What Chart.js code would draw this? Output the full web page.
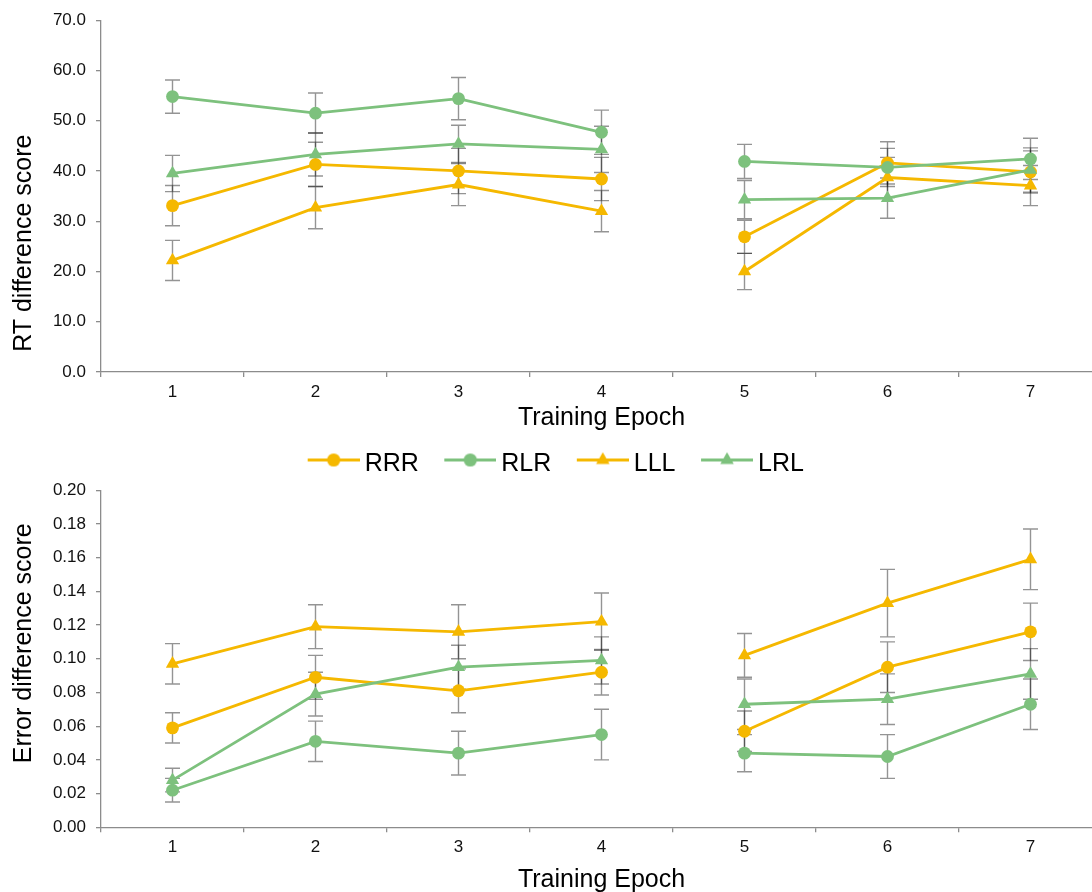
<!DOCTYPE html>
<html>
<head>
<meta charset="utf-8">
<title>RT and error difference scores by training epoch</title>
<script src="https://cdn.jsdelivr.net/npm/chart.js@4.4.1/dist/chart.umd.min.js"></script>
<style>
  html, body { margin: 0; padding: 0; background: #fff; width: 1092px; height: 892px; overflow: hidden; }
  #wrap { position: relative; width: 1092px; height: 892px; overflow: hidden; }
  canvas { position: absolute; left: 0; }
  #rtChart { top: 0; }
  #errChart { top: 470px; }
</style>
</head>
<body>
<div id="wrap">
  <canvas id="rtChart" width="1102" height="487"></canvas>
  <canvas id="errChart" width="1102" height="422"></canvas>
</div>
<script>
// ---- data ----
const epochs = ['1', '2', '3', '4', '5', '6', '7'];
const breakAfterEpoch = '4';          // lines are not joined between epoch 4 and 5
const groups = ['RRR', 'RLR', 'LLL', 'LRL'];

// RT difference score (means and standard errors)
const rtRRR = [33.1, 41.3, 40.0, 38.4, 26.9, 41.6, 39.8];
const rtRLR = [54.8, 51.5, 54.4, 47.7, 41.9, 40.7, 42.4];
const rtLLL = [22.2, 32.7, 37.3, 32.0, 20.0, 38.7, 37.1];
const rtLRL = [39.5, 43.3, 45.4, 44.3, 34.3, 34.6, 40.2];
const rtRRRErr = [4.0, 4.4, 4.5, 4.3, 3.3, 4.2, 4.2];
const rtRLRErr = [3.3, 4.0, 4.2, 4.4, 3.4, 3.8, 4.1];
const rtLLLErr = [4.0, 4.2, 4.2, 4.1, 3.6, 4.0, 4.0];
const rtLRLErr = [3.6, 4.3, 3.7, 4.6, 3.8, 4.0, 4.4];

// Error difference score (means and standard errors)
const erRRR = [0.059, 0.089, 0.081, 0.092, 0.057, 0.095, 0.116];
const erRLR = [0.022, 0.051, 0.044, 0.055, 0.044, 0.042, 0.073];
const erLLL = [0.097, 0.119, 0.116, 0.122, 0.102, 0.133, 0.159];
const erLRL = [0.028, 0.079, 0.095, 0.099, 0.073, 0.076, 0.091];
const erRRRErr = [0.009, 0.013, 0.013, 0.0135, 0.012, 0.015, 0.017];
const erRLRErr = [0.007, 0.012, 0.013, 0.015, 0.011, 0.013, 0.015];
const erLLLErr = [0.012, 0.013, 0.016, 0.017, 0.013, 0.020, 0.018];
const erLRLErr = [0.007, 0.013, 0.013, 0.014, 0.015, 0.015, 0.015];

// axis tick values
const rtTicks = [0, 10, 20, 30, 40, 50, 60, 70];
const erTicks = [0, 0.02, 0.04, 0.06, 0.08, 0.10, 0.12, 0.14, 0.16, 0.18, 0.20];

// ---- styling ----
const ORANGE = '#F5B800';
const GREEN = '#7DC17D';
const AXIS = '#8c8c8c';
const FONT = '"Liberation Sans", Arial, Helvetica, sans-serif';
Chart.defaults.font.family = FONT;
Chart.defaults.color = '#111';

const seriesStyle = {
  RRR: { color: ORANGE, marker: 'circle',   radius: 6.4, order: 2 },
  RLR: { color: GREEN,  marker: 'circle',   radius: 6.4, order: 0 },
  LLL: { color: ORANGE, marker: 'triangle', radius: 7.7, order: 3 },
  LRL: { color: GREEN,  marker: 'triangle', radius: 7.7, order: 1 }
};

function buildDatasets(values, errors) {
  return groups.map((g, i) => {
    const s = seriesStyle[g];
    return {
      label: g,
      data: values[i],
      errors: errors[i],
      order: s.order,
      borderColor: s.color,
      backgroundColor: s.color,
      borderWidth: 2.8,
      pointStyle: s.marker,
      pointRadius: s.radius,
      pointHoverRadius: s.radius,
      pointBorderWidth: 0,
      pointBackgroundColor: s.color,
      tension: 0,
      segment: {
        borderColor: ctx => epochs[ctx.p0DataIndex] === breakAfterEpoch ? 'rgba(0,0,0,0)' : undefined
      }
    };
  });
}

// legend icon: short line with the series marker in the middle
function legendIcon(ds) {
  const c = document.createElement('canvas');
  c.width = 69; c.height = 34;
  const g = c.getContext('2d');
  const ly = 12.5;
  g.strokeStyle = ds.borderColor;
  g.lineWidth = 2.8;
  g.beginPath(); g.moveTo(17, ly); g.lineTo(69, ly); g.stroke();
  g.fillStyle = ds.borderColor;
  g.beginPath();
  if (ds.pointStyle === 'circle') {
    g.arc(43, ly, 6.6, 0, Math.PI * 2);
  } else {
    const r = 7.8;
    g.moveTo(43, ly - r);
    g.lineTo(43 + r * Math.sin(2 * Math.PI / 3), ly + r / 2);
    g.lineTo(43 - r * Math.sin(2 * Math.PI / 3), ly + r / 2);
    g.closePath();
  }
  g.fill();
  return c;
}

// vertical error bars with caps, drawn beneath the lines
const errorBars = {
  id: 'errorBars',
  beforeDatasetsDraw(chart, args, opts) {
    const { ctx } = chart;
    const xs = chart.scales.x, ys = chart.scales.y;
    ctx.save();
    ctx.strokeStyle = opts.color;
    ctx.lineWidth = opts.width;
    chart.data.datasets.forEach((ds, di) => {
      if (!chart.isDatasetVisible(di)) return;
      ds.data.forEach((v, j) => {
        const e = ds.errors[j];
        const px = xs.getPixelForValue(j);
        const hi = ys.getPixelForValue(v + e);
        const lo = ys.getPixelForValue(v - e);
        ctx.beginPath();
        ctx.moveTo(px, hi); ctx.lineTo(px, lo);
        ctx.moveTo(px - opts.cap, hi); ctx.lineTo(px + opts.cap, hi);
        ctx.moveTo(px - opts.cap, lo); ctx.lineTo(px + opts.cap, lo);
        ctx.stroke();
      });
    });
    ctx.restore();
  }
};

// rotated y-axis title
const sideTitle = {
  id: 'sideTitle',
  afterDraw(chart, args, opts) {
    const { ctx, chartArea } = chart;
    ctx.save();
    ctx.font = '25px ' + FONT;
    ctx.fillStyle = '#000';
    ctx.textAlign = 'center';
    ctx.textBaseline = 'middle';
    ctx.translate(opts.x, chartArea.top + opts.along * (chartArea.bottom - chartArea.top));
    ctx.rotate(-Math.PI / 2);
    ctx.fillText(opts.text, 0, 0);
    ctx.restore();
  }
};

function makeOptions(cfg) {
  return {
    responsive: false,
    animation: false,
    events: [],
    layout: { padding: cfg.padding, autoPadding: false },
    plugins: {
      tooltip: { enabled: false },
      legend: cfg.legend ? {
        display: true,
        position: 'bottom',
        align: 'center',
        labels: {
          usePointStyle: true,
          pointStyleWidth: 54,
          padding: 16,
          color: '#000',
          font: { size: 25, family: FONT },
          generateLabels(chart) {
            const items = Chart.defaults.plugins.legend.labels.generateLabels(chart);
            items.sort((a, b) => a.datasetIndex - b.datasetIndex);
            items.forEach(it => { it.pointStyle = legendIcon(chart.data.datasets[it.datasetIndex]); });
            return items;
          }
        }
      } : { display: false },
      errorBars: { color: 'rgba(0,0,0,0.42)', width: 1.4, cap: 7.5 },
      sideTitle: { text: cfg.yTitle, x: 24.5, along: cfg.titleAlong }
    },
    scales: {
      x: {
        type: 'category',
        offset: true,
        afterFit(scale) { scale.height = cfg.xHeight; scale.paddingLeft = 0; scale.paddingRight = 0; },
        grid: { offset: true, drawOnChartArea: false, drawTicks: true, tickLength: 5, color: AXIS, lineWidth: 1.3 },
        border: { display: true, color: AXIS, width: 1.3 },
        ticks: { padding: 5, color: '#111', font: { size: 17 }, maxRotation: 0, autoSkip: false },
        title: { display: true, text: 'Training Epoch', color: '#000', font: { size: 25 }, padding: { top: 0, bottom: cfg.xTitlePad } }
      },
      y: {
        min: cfg.ticks[0],
        max: cfg.ticks[cfg.ticks.length - 1],
        afterFit(scale) { scale.width = 101; },
        afterBuildTicks(scale) { scale.ticks = cfg.ticks.map(v => ({ value: v })); },
        grid: { drawOnChartArea: false, drawTicks: true, tickLength: 5, color: AXIS, lineWidth: 1.3 },
        border: { display: true, color: AXIS, width: 1.3 },
        ticks: { padding: 10, color: '#111', font: { size: 17 }, callback: v => Number(v).toFixed(cfg.decimals) }
      }
    }
  };
}

new Chart(document.getElementById('rtChart'), {
  type: 'line',
  data: {
    labels: epochs,
    datasets: buildDatasets([rtRRR, rtRLR, rtLLL, rtLRL], [rtRRRErr, rtRLRErr, rtLLLErr, rtLRLErr])
  },
  options: makeOptions({
    padding: { top: 16.7, bottom: 0, left: 0, right: 0 },
    legend: true,
    xHeight: 64,
    xTitlePad: 3,
    ticks: rtTicks,
    decimals: 1,
    yTitle: 'RT difference score',
    titleAlong: 0.634
  }),
  plugins: [errorBars, sideTitle]
});

new Chart(document.getElementById('errChart'), {
  type: 'line',
  data: {
    labels: epochs,
    datasets: buildDatasets([erRRR, erRLR, erLLL, erLRL], [erRRRErr, erRLRErr, erLLLErr, erLRLErr])
  },
  options: makeOptions({
    padding: { top: 17.3, bottom: 0, left: 0, right: 0 },
    legend: false,
    xHeight: 64.7,
    xTitlePad: -3,
    ticks: erTicks,
    decimals: 2,
    yTitle: 'Error difference score',
    titleAlong: 0.454
  }),
  plugins: [errorBars, sideTitle]
});
</script>
</body>
</html>
